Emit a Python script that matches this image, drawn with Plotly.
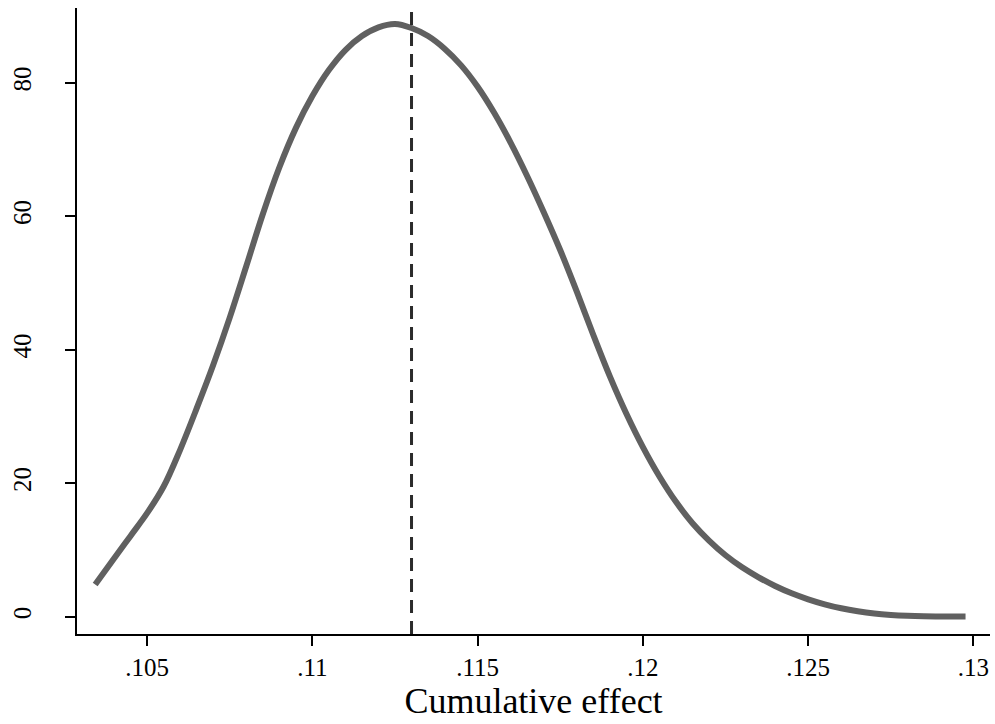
import plotly.graph_objects as go

# Kernel density estimate of the cumulative effect
effect = [0.10343, 0.10400, 0.10450, 0.10500, 0.10550, 0.10600, 0.10650, 0.10700,
          0.10750, 0.10800, 0.10850, 0.10900, 0.10950, 0.11000, 0.11050, 0.11100,
          0.11150, 0.11200, 0.11250, 0.11300, 0.11350, 0.11400, 0.11450, 0.11500,
          0.11550, 0.11600, 0.11650, 0.11700, 0.11750, 0.11800, 0.11850, 0.11900,
          0.11950, 0.12000, 0.12050, 0.12100, 0.12150, 0.12200, 0.12250, 0.12300,
          0.12350, 0.12400, 0.12450, 0.12500, 0.12550, 0.12600, 0.12650, 0.12700,
          0.12750, 0.12800, 0.12850, 0.12900, 0.12950, 0.12976]
density = [4.8, 8.7, 12.1, 15.5, 19.5, 25.0, 31.2, 37.7,
           44.8, 52.5, 60.3, 67.3, 73.2, 78.0, 81.9, 84.9,
           87.0, 88.3, 88.8, 88.2, 87.0, 85.1, 82.6, 79.4,
           75.5, 71.0, 66.0, 60.6, 54.9, 48.7, 42.2, 36.0,
           30.4, 25.4, 21.0, 17.2, 14.0, 11.4, 9.2, 7.4,
           5.9, 4.6, 3.5, 2.6, 1.85, 1.25, 0.8, 0.47,
           0.26, 0.13, 0.06, 0.03, 0.01, 0.01]
mean_effect = 0.1130

x_ticks = [0.105, 0.11, 0.115, 0.12, 0.125, 0.13]
x_tick_labels = [".105", ".11", ".115", ".12", ".125", ".13"]
y_ticks = [0, 20, 40, 60, 80]
y_tick_labels = ["0", "20", "40", "60", "80"]

font_family = "Liberation Serif, Times New Roman, serif"

fig = go.Figure()
fig.add_trace(go.Scatter(
    x=effect, y=density, mode="lines",
    line=dict(color="#606060", width=6, shape="spline", smoothing=1.0),
    showlegend=False, hoverinfo="skip",
))

# Vertical dashed marker at the mean effect
fig.add_shape(
    type="line", xref="x", yref="paper",
    x0=mean_effect, x1=mean_effect, y0=0, y1=1,
    line=dict(color="#2b2b2b", width=3, dash="13px,8px"),
)

fig.update_layout(
    width=995, height=724,
    margin=dict(l=77, r=5, t=8, b=90),
    paper_bgcolor="white", plot_bgcolor="white",
    font=dict(family=font_family, color="black"),
    xaxis=dict(
        range=[0.10288, 0.1305],
        tickvals=x_ticks, ticktext=x_tick_labels,
        ticks="outside", ticklen=10, tickwidth=1.5, tickcolor="black",
        showline=True, linecolor="black", linewidth=1.5,
        showgrid=False, zeroline=False,
        tickfont=dict(size=25, family=font_family),
        ticklabelstandoff=0,
        title=dict(text="Cumulative effect", font=dict(size=36, family=font_family),
                   standoff=8),
    ),
    yaxis=dict(
        range=[-2.6, 91.2],
        tickvals=y_ticks, ticktext=y_tick_labels,
        ticks="outside", ticklen=10, tickwidth=1.5, tickcolor="black",
        showline=True, linecolor="black", linewidth=1.5,
        showgrid=False, zeroline=False,
        tickangle=-90,
        tickfont=dict(size=25, family=font_family),
        ticklabelstandoff=24,
    ),
)

fig.write_html("out.html")
